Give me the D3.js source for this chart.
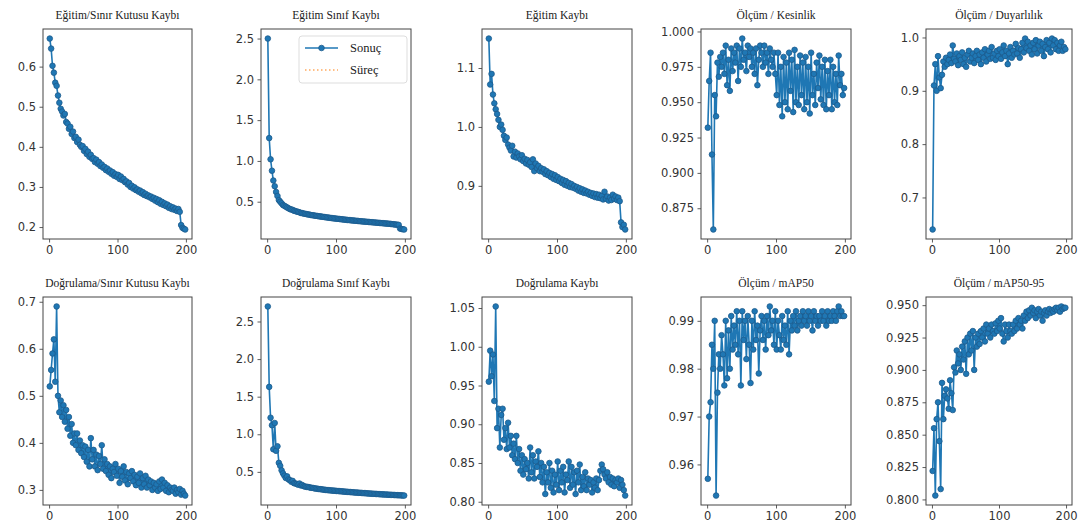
<!DOCTYPE html>
<html><head><meta charset="utf-8">
<script src="https://cdn.jsdelivr.net/npm/d3@7"></script>
<style>body{margin:0;background:#fff}svg{display:block}</style>
</head><body><svg id="c" width="1084" height="532"></svg>
<script>
const epochs = [1,3,5,7,9,11,13,15,17,19,21,23,25,27,29,31,33,35,37,39,41,43,45,47,49,51,53,55,57,59,61,63,65,67,69,71,73,75,77,79,81,83,85,87,89,91,93,95,97,99,101,103,105,107,109,111,113,115,117,119,121,123,125,127,129,131,133,135,137,139,141,143,145,147,149,151,153,155,157,159,161,163,165,167,169,171,173,175,177,179,181,183,185,187,189,191,193,195,197,199];

const titles = ["Eğitim/Sınır Kutusu Kaybı","Eğitim Sınıf Kaybı","Eğitim Kaybı","Ölçüm / Kesinlik","Ölçüm / Duyarlılık",
  "Doğrulama/Sınır Kutusu Kaybı","Doğrulama Sınıf Kaybı","Doğrulama Kaybı","Ölçüm / mAP50","Ölçüm / mAP50-95"];
const legendLabels = ["Sonuç","Süreç"];

const egitimSinirKutusu = [0.670,0.645,0.602,0.585,0.560,0.552,0.528,0.510,0.495,0.488,
 0.478,0.482,0.462,0.458,0.445,0.450,0.432,0.438,0.422,0.425,
 0.412,0.418,0.405,0.400,0.402,0.390,0.395,0.382,0.388,0.375,
 0.380,0.370,0.372,0.362,0.368,0.358,0.362,0.352,0.356,0.348,
 0.350,0.342,0.346,0.338,0.341,0.333,0.337,0.328,0.332,0.325,
 0.330,0.320,0.326,0.317,0.320,0.312,0.314,0.306,0.310,0.300,
 0.303,0.296,0.299,0.292,0.294,0.288,0.291,0.284,0.287,0.280,
 0.283,0.277,0.279,0.274,0.276,0.270,0.273,0.266,0.270,0.262,
 0.267,0.258,0.263,0.255,0.259,0.252,0.256,0.248,0.252,0.245,
 0.249,0.243,0.246,0.240,0.245,0.238,0.205,0.198,0.196,0.194];
const egitimSinif = [2.50,1.28,1.02,0.88,0.76,0.69,0.62,0.57,0.52,0.50,
 0.48,0.46,0.45,0.44,0.43,0.42,0.41,0.405,0.40,0.39,
 0.385,0.38,0.375,0.37,0.362,0.36,0.355,0.352,0.348,0.345,
 0.342,0.338,0.335,0.333,0.33,0.327,0.325,0.322,0.32,0.317,
 0.315,0.312,0.31,0.307,0.305,0.303,0.30,0.298,0.296,0.294,
 0.292,0.29,0.288,0.286,0.284,0.282,0.28,0.278,0.276,0.275,
 0.273,0.271,0.27,0.268,0.266,0.265,0.263,0.261,0.26,0.258,
 0.257,0.255,0.254,0.252,0.251,0.249,0.248,0.246,0.245,0.243,
 0.242,0.24,0.239,0.237,0.236,0.234,0.233,0.231,0.23,0.228,
 0.226,0.224,0.222,0.22,0.218,0.216,0.172,0.166,0.163,0.160];
const egitimKayip = [1.150,1.072,1.090,1.055,1.040,1.030,1.022,1.012,1.000,1.004,
 0.995,0.985,0.978,0.982,0.970,0.965,0.960,0.968,0.950,0.958,
 0.948,0.955,0.950,0.945,0.952,0.942,0.946,0.938,0.944,0.936,
 0.940,0.932,0.945,0.925,0.938,0.930,0.934,0.925,0.930,0.924,
 0.928,0.920,0.925,0.918,0.922,0.915,0.920,0.912,0.918,0.910,
 0.915,0.908,0.912,0.905,0.910,0.902,0.908,0.900,0.905,0.898,
 0.903,0.897,0.900,0.895,0.898,0.892,0.896,0.890,0.894,0.888,
 0.892,0.887,0.890,0.885,0.888,0.883,0.887,0.881,0.886,0.880,
 0.885,0.879,0.883,0.877,0.890,0.878,0.882,0.875,0.880,0.876,
 0.885,0.878,0.882,0.876,0.880,0.874,0.838,0.830,0.834,0.826];
const kesinlik = [0.932,0.965,0.985,0.913,0.860,0.955,0.940,0.978,0.968,0.982,
 0.975,0.985,0.970,0.990,0.962,0.980,0.958,0.988,0.972,0.985,
 0.978,0.990,0.965,0.988,0.975,0.995,0.980,0.985,0.972,0.990,
 0.982,0.988,0.975,0.985,0.970,0.988,0.962,0.980,0.990,0.985,
 0.975,0.990,0.978,0.985,0.970,0.988,0.980,0.975,0.985,0.970,
 0.955,0.985,0.948,0.975,0.940,0.982,0.950,0.978,0.945,0.985,
 0.958,0.980,0.943,0.987,0.950,0.975,0.948,0.983,0.955,0.978,
 0.945,0.982,0.950,0.975,0.942,0.985,0.955,0.970,0.948,0.978,
 0.960,0.983,0.952,0.975,0.948,0.980,0.945,0.972,0.955,0.980,
 0.945,0.975,0.950,0.970,0.948,0.983,0.962,0.970,0.955,0.960];
const duyarlilik = [0.640,0.910,0.950,0.900,0.965,0.925,0.905,0.930,0.955,0.945,
 0.962,0.950,0.958,0.968,0.952,0.985,0.960,0.955,0.970,0.948,
 0.965,0.958,0.972,0.950,0.962,0.945,0.968,0.975,0.955,0.962,
 0.970,0.952,0.965,0.975,0.958,0.968,0.950,0.972,0.962,0.978,
 0.955,0.968,0.975,0.960,0.982,0.962,0.970,0.958,0.975,0.965,
 0.978,0.960,0.972,0.985,0.965,0.975,0.950,0.970,0.982,0.962,
 0.975,0.968,0.988,0.970,0.980,0.962,0.978,0.990,0.972,0.998,
 0.980,0.992,0.975,0.985,0.968,0.990,0.978,0.995,0.970,0.985,
 0.992,0.975,0.988,0.965,0.982,0.995,0.978,0.990,0.972,0.998,
 0.985,0.995,0.978,0.990,0.975,0.985,0.992,0.975,0.982,0.978];
const dogrulamaSinirKutusu = [0.520,0.555,0.590,0.620,0.530,0.690,0.500,0.465,0.490,0.455,
 0.480,0.445,0.470,0.430,0.455,0.415,0.440,0.400,0.420,0.395,
 0.420,0.385,0.405,0.378,0.395,0.370,0.392,0.360,0.385,0.350,
 0.410,0.365,0.385,0.350,0.375,0.342,0.372,0.355,0.395,0.345,
 0.365,0.340,0.355,0.332,0.350,0.325,0.345,0.338,0.355,0.330,
 0.345,0.315,0.340,0.328,0.350,0.320,0.338,0.312,0.335,0.325,
 0.340,0.318,0.332,0.310,0.328,0.315,0.335,0.305,0.325,0.312,
 0.330,0.305,0.322,0.310,0.318,0.300,0.315,0.305,0.312,0.298,
 0.318,0.302,0.322,0.305,0.315,0.298,0.310,0.295,0.305,0.300,
 0.298,0.305,0.292,0.300,0.295,0.302,0.290,0.298,0.292,0.288];
const dogrulamaSinif = [2.700,1.630,1.220,1.120,0.800,1.150,0.780,0.840,0.620,0.580,
 0.520,0.480,0.450,0.420,0.440,0.400,0.390,0.370,0.380,0.350,
 0.345,0.340,0.330,0.345,0.320,0.325,0.310,0.305,0.300,0.300,
 0.295,0.290,0.288,0.285,0.280,0.278,0.275,0.272,0.270,0.268,
 0.265,0.262,0.260,0.258,0.256,0.255,0.253,0.251,0.250,0.248,
 0.246,0.245,0.243,0.242,0.240,0.238,0.237,0.235,0.234,0.232,
 0.231,0.229,0.228,0.226,0.225,0.224,0.222,0.221,0.220,0.218,
 0.217,0.216,0.214,0.213,0.212,0.210,0.209,0.208,0.207,0.206,
 0.205,0.203,0.202,0.201,0.200,0.199,0.198,0.197,0.196,0.195,
 0.194,0.193,0.192,0.191,0.190,0.189,0.188,0.187,0.186,0.185];
const dogrulamaKayip = [0.955,0.995,0.962,0.990,0.930,1.052,0.895,0.920,0.870,0.912,
 0.920,0.880,0.895,0.868,0.902,0.870,0.885,0.860,0.875,0.855,
 0.885,0.850,0.868,0.840,0.860,0.835,0.855,0.842,0.850,0.830,
 0.870,0.838,0.860,0.830,0.852,0.845,0.865,0.832,0.850,0.825,
 0.845,0.810,0.838,0.825,0.850,0.818,0.840,0.812,0.835,0.822,
 0.852,0.815,0.840,0.825,0.845,0.812,0.835,0.828,0.852,0.818,
 0.845,0.822,0.838,0.810,0.840,0.825,0.848,0.815,0.832,0.820,
 0.838,0.815,0.830,0.822,0.828,0.812,0.825,0.818,0.830,0.815,
 0.828,0.840,0.848,0.842,0.835,0.830,0.838,0.825,0.832,0.822,
 0.830,0.820,0.828,0.825,0.830,0.818,0.828,0.822,0.815,0.808];
const mAP50 = [0.957,0.970,0.973,0.985,0.980,0.990,0.9535,0.975,0.983,0.980,
 0.987,0.983,0.9765,0.990,0.978,0.988,0.980,0.991,0.984,0.989,
 0.985,0.992,0.983,0.990,0.9765,0.992,0.986,0.990,0.982,0.991,
 0.985,0.977,0.990,0.984,0.992,0.986,0.989,0.979,0.988,0.991,
 0.986,0.990,0.984,0.991,0.987,0.993,0.988,0.990,0.985,0.992,
 0.984,0.990,0.987,0.984,0.991,0.986,0.989,0.985,0.992,0.983,
 0.990,0.988,0.991,0.989,0.992,0.988,0.990,0.991,0.989,0.992,
 0.990,0.991,0.989,0.992,0.990,0.991,0.988,0.992,0.990,0.991,
 0.989,0.991,0.990,0.992,0.990,0.991,0.989,0.992,0.990,0.991,
 0.990,0.992,0.991,0.990,0.992,0.993,0.991,0.992,0.991,0.991];
const mAP5095 = [0.822,0.855,0.803,0.862,0.875,0.845,0.808,0.890,0.862,0.880,
 0.885,0.878,0.870,0.892,0.882,0.869,0.902,0.898,0.915,0.905,
 0.912,0.900,0.918,0.908,0.922,0.897,0.925,0.912,0.928,0.915,
 0.930,0.900,0.925,0.918,0.928,0.920,0.930,0.925,0.932,0.922,
 0.935,0.928,0.932,0.925,0.935,0.930,0.928,0.936,0.930,0.938,
 0.932,0.940,0.928,0.922,0.935,0.930,0.925,0.935,0.930,0.928,
 0.935,0.930,0.938,0.932,0.940,0.935,0.938,0.932,0.942,0.938,
 0.945,0.940,0.946,0.942,0.948,0.944,0.946,0.940,0.945,0.947,
 0.942,0.945,0.938,0.944,0.946,0.942,0.945,0.947,0.944,0.946,
 0.945,0.947,0.948,0.946,0.948,0.945,0.949,0.947,0.948,0.948];

const seriesList = [egitimSinirKutusu, egitimSinif, egitimKayip, kesinlik, duyarlilik,
  dogrulamaSinirKutusu, dogrulamaSinif, dogrulamaKayip, mAP50, mAP5095];

const xTicks = [0,100,200];
const yTicks = [
  [0.2,0.3,0.4,0.5,0.6],
  [0.5,1.0,1.5,2.0,2.5],
  [0.9,1.0,1.1],
  [0.875,0.900,0.925,0.950,0.975,1.000],
  [0.7,0.8,0.9,1.0],
  [0.3,0.4,0.5,0.6,0.7],
  [0.5,1.0,1.5,2.0,2.5],
  [0.80,0.85,0.90,0.95,1.00,1.05],
  [0.96,0.97,0.98,0.99],
  [0.800,0.825,0.850,0.875,0.900,0.925,0.950]
];
const yFormats = [".1f",".1f",".1f",".3f",".1f",".1f",".1f",".2f",".2f",".3f"];

// layout
const colLeft = [43, 261, 482, 701, 926];
const colWidth = [149, 150, 150, 150, 146];
const rowTop = [29, 297];
const rowHeight = [210, 208];

const svg = d3.select("#c");
const blue = "#1f77b4";
const edge = "#1d5a8c";
const tickFont = "'DejaVu Sans', sans-serif";
const titleFont = "'Liberation Serif', 'Times New Roman', serif";

seriesList.forEach((vals, i) => {
  const r = Math.floor(i / 5), c = i % 5;
  const w = colWidth[c], h = rowHeight[r];
  const g = svg.append("g").attr("transform", `translate(${colLeft[c]},${rowTop[r]})`);
  const xmin = d3.min(epochs), xmax = d3.max(epochs);
  const xr = xmax - xmin;
  const x = d3.scaleLinear().domain([xmin - 0.05 * xr, xmax + 0.05 * xr]).range([0, w]);
  const ymin = d3.min(vals), ymax = d3.max(vals);
  const yr = ymax - ymin;
  const y = d3.scaleLinear().domain([ymin - 0.05 * yr, ymax + 0.05 * yr]).range([h, 0]);

  const pts = epochs.map((e, k) => [e, vals[k]]);
  g.append("path").datum(pts)
    .attr("fill", "none").attr("stroke", blue).attr("stroke-width", 1.6)
    .attr("d", d3.line().x(d => x(d[0])).y(d => y(d[1])));
  g.selectAll("circle.m").data(pts).join("circle").attr("class", "m")
    .attr("cx", d => x(d[0])).attr("cy", d => y(d[1])).attr("r", 2.8)
    .attr("fill", blue).attr("stroke", edge).attr("stroke-width", 0.8);

  const xa = g.append("g").attr("transform", `translate(0,${h})`)
    .call(d3.axisBottom(x).tickValues(xTicks).tickFormat(d3.format("d")).tickSize(3.5).tickPadding(3.5));
  const ya = g.append("g")
    .call(d3.axisLeft(y).tickValues(yTicks[i]).tickFormat(d3.format(yFormats[i])).tickSize(3.5).tickPadding(3.5));
  [xa, ya].forEach(a => {
    a.select(".domain").remove();
    a.selectAll("line").attr("stroke", "#333").attr("stroke-width", 0.8);
    a.selectAll("text").attr("font-family", tickFont).attr("font-size", 11.5).attr("fill", "#333");
  });

  g.append("rect").attr("x", 0).attr("y", 0).attr("width", w).attr("height", h)
    .attr("fill", "none").attr("stroke", "#444").attr("stroke-width", 1);

  g.append("text").attr("x", w / 2).attr("y", -10).attr("text-anchor", "middle")
    .attr("font-family", titleFont).attr("font-size", 11.5).attr("fill", "#222").text(titles[i]);

  if (i === 1) {
    const lg = g.append("g").attr("transform", `translate(${299 - colLeft[c]},${36 - rowTop[r]})`);
    lg.append("rect").attr("width", 108).attr("height", 47).attr("rx", 3)
      .attr("fill", "#fff").attr("fill-opacity", 0.8).attr("stroke", "#ddd").attr("stroke-width", 1);
    lg.append("line").attr("x1", 6).attr("x2", 39).attr("y1", 12).attr("y2", 12)
      .attr("stroke", blue).attr("stroke-width", 1.6);
    lg.append("circle").attr("cx", 22.5).attr("cy", 12).attr("r", 2.8).attr("fill", blue).attr("stroke", edge).attr("stroke-width", 0.8);
    lg.append("line").attr("x1", 6).attr("x2", 39).attr("y1", 34).attr("y2", 34)
      .attr("stroke", "#ff7f0e").attr("stroke-width", 1.2).attr("stroke-dasharray", "1.5,2.5");
    lg.append("text").attr("x", 51).attr("y", 16).attr("font-family", titleFont).attr("font-size", 12.5).attr("fill", "#222").text(legendLabels[0]);
    lg.append("text").attr("x", 51).attr("y", 38).attr("font-family", titleFont).attr("font-size", 12.5).attr("fill", "#222").text(legendLabels[1]);
  }
});
</script>
</body></html>
